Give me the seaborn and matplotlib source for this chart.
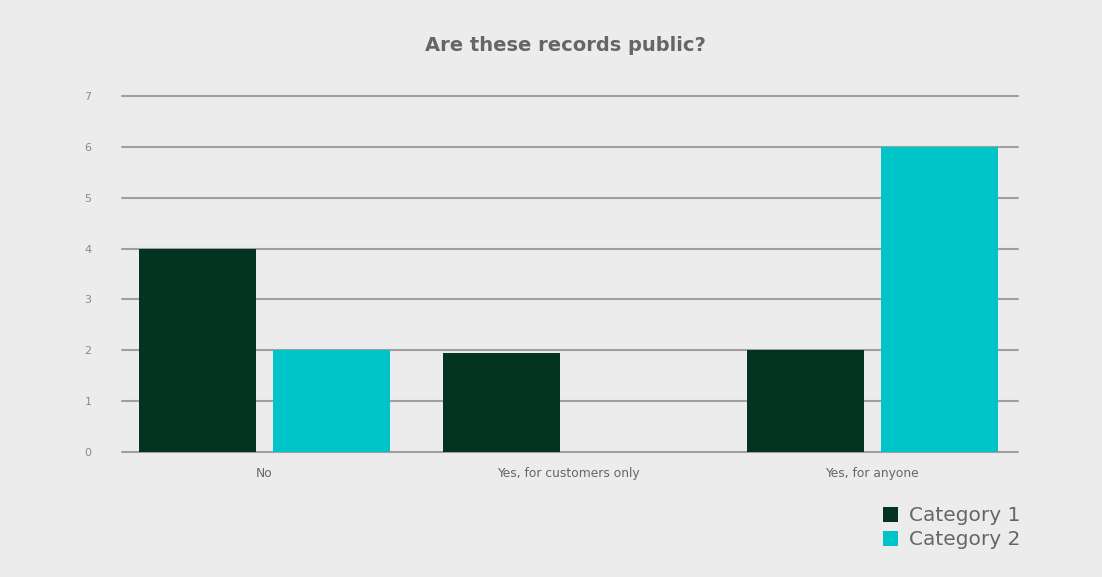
import matplotlib
matplotlib.use("Agg")
import matplotlib.pyplot as plt
import seaborn as sns
import pandas as pd

categories = ["No", "Yes, for customers only", "Yes, for anyone"]
series_names = ["Category 1", "Category 2"]
cat1_values = [4, 1.95, 2]
cat2_values = [2, 0, 6]
colors = ["#053321", "#00c5c8"]

df = pd.DataFrame({
    "answer": categories * 2,
    "series": [series_names[0]] * 3 + [series_names[1]] * 3,
    "value": cat1_values + cat2_values,
})

sns.set_theme(style="white")
plt.rcParams["font.family"] = ["DejaVu Sans"]

fig = plt.figure(figsize=(11.02, 5.77), dpi=100, facecolor="#ececec")
ax = fig.add_axes([0.1107, 0.2166, 0.813, 0.617])
ax.set_facecolor("#ececec")

sns.barplot(data=df, x="answer", y="value", hue="series", order=categories,
            hue_order=series_names, palette=colors, width=0.8816, gap=0.127,
            saturation=1, ax=ax, zorder=3, edgecolor="none")

ax.set_ylim(0, 7)
ax.set_xlim(-0.469, 2.48)
ax.set_yticks(range(0, 8))
ax.yaxis.grid(True, color="#a0a0a0", linewidth=1.5, zorder=0)
ax.set_axisbelow(True)
for gl in ax.get_ygridlines():
    gl.set_clip_on(False)
for s in ax.spines.values():
    s.set_visible(False)
ax.tick_params(axis="y", length=0, pad=22, labelsize=8, labelcolor="#8a8a8a")
ax.tick_params(axis="x", length=0, pad=11, labelsize=8.8, labelcolor="#666666")
ax.set_xlabel("")
ax.set_ylabel("")

fig.suptitle("Are these records public?", x=0.513, y=0.937, fontsize=14,
             fontweight="bold", color="#666666")

leg = ax.legend(loc="upper left", bbox_to_anchor=(0.84, -0.13), frameon=False,
                fontsize=14.5, labelcolor="#666666", handlelength=0.75,
                handleheight=0.75, handletextpad=0.55, labelspacing=0.25,
                borderaxespad=0)

fig.savefig("out.png", dpi=100, facecolor=fig.get_facecolor())
